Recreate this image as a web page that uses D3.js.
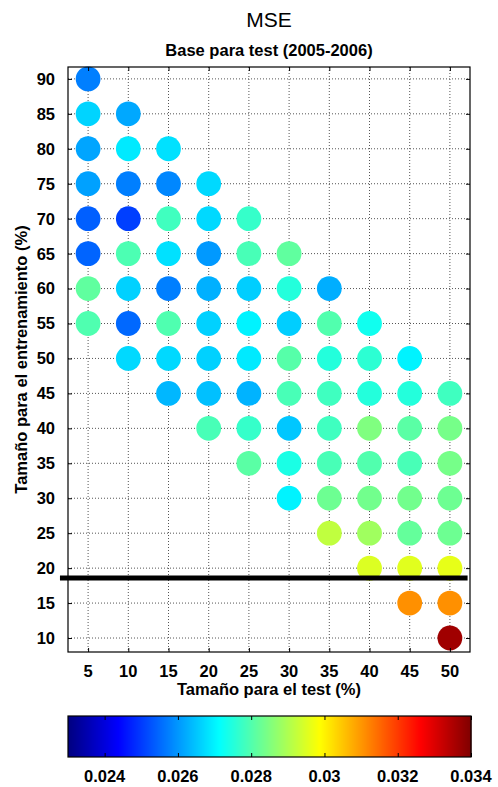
<!DOCTYPE html>
<html>
<head>
<meta charset="utf-8">
<script src="https://cdn.jsdelivr.net/npm/d3@7"></script>
<style>
  body { margin: 0; background: #fff; }
  text { font-family: "Liberation Sans", Arial, sans-serif; fill: #000; }
</style>
</head>
<body>
<div id="chart"></div>
<script>
// ------------------------------------------------------------------
// Data
var testSizes  = [5, 10, 15, 20, 25, 30, 35, 40, 45, 50];
var trainSizes = [90, 85, 80, 75, 70, 65, 60, 55, 50, 45, 40, 35, 30, 25, 20, 15, 10];
// one row per training size, one column per test size (null = no point)
var mseRows = [
  [0.02575],
  [0.02666, 0.02619],
  [0.02615, 0.02690, 0.02680],
  [0.02611, 0.02575, 0.02583, 0.02671],
  [0.02540, 0.02505, 0.02781, 0.02671, 0.02770],
  [0.02545, 0.02795, 0.02680, 0.02603, 0.02790, 0.02816],
  [0.02816, 0.02663, 0.02575, 0.02627, 0.02660, 0.02750, 0.02625],
  [0.02798, 0.02550, 0.02798, 0.02663, 0.02700, 0.02660, 0.02800, 0.02730],
  [null, 0.02671, 0.02671, 0.02663, 0.02690, 0.02805, 0.02750, 0.02760, 0.02700],
  [null, null, 0.02635, 0.02645, 0.02630, 0.02790, 0.02780, 0.02750, 0.02750, 0.02780],
  [null, null, null, 0.02790, 0.02770, 0.02652, 0.02780, 0.02850, 0.02810, 0.02840],
  [null, null, null, null, 0.02810, 0.02740, 0.02790, 0.02800, 0.02790, 0.02840],
  [null, null, null, null, null, 0.02700, 0.02830, 0.02835, 0.02835, 0.02830],
  [null, null, null, null, null, null, 0.02920, 0.02885, 0.02820, 0.02830],
  [null, null, null, null, null, null, null, 0.02950, 0.02955, 0.02962],
  [null, null, null, null, null, null, null, null, 0.03107, 0.03107],
  [null, null, null, null, null, null, null, null, null, 0.03365]
];
var colorRange  = [0.023, 0.034];
var colorTicks  = [0.024, 0.026, 0.028, 0.030, 0.032, 0.034];
var splitLineY  = 18.6;          // thick separator between 20 and 15
var splitLineX  = [1.5, 52.2];

// ------------------------------------------------------------------
// Layout
var width = 498, height = 787;
var plot = { left: 68, right: 470, top: 67, bottom: 652 };
var bar  = { left: 68, right: 471, top: 716, bottom: 757 };
var radius = 12.4;

var svg = d3.select("#chart").append("svg")
  .attr("width", width)
  .attr("height", height);

var x = d3.scaleLinear().domain([2.5, 52.5]).range([plot.left, plot.right]);
var y = d3.scaleLinear().domain([8, 91.7]).range([plot.bottom, plot.top]);

// jet colormap like matlab
function jet(t) {
  t = Math.max(0, Math.min(1, t));
  var r = Math.max(0, Math.min(1, 1.5 - Math.abs(4 * t - 3)));
  var g = Math.max(0, Math.min(1, 1.5 - Math.abs(4 * t - 2)));
  var b = Math.max(0, Math.min(1, 1.5 - Math.abs(4 * t - 1)));
  return d3.rgb(r * 255, g * 255, b * 255).toString();
}
var tScale = d3.scaleLinear().domain(colorRange).range([0, 1]).clamp(true);
var color = function(v) { return jet(tScale(v)); };

// flatten rows into points
var points = [];
for (var i = 0; i < trainSizes.length; i++) {
  var row = mseRows[i];
  for (var j = 0; j < row.length; j++) {
    if (row[j] != null) points.push({ test: testSizes[j], train: trainSizes[i], mse: row[j] });
  }
}

// ------------------------------------------------------------------
// Grid (dotted)
var grid = svg.append("g");
grid.selectAll(".gx").data(testSizes).enter().append("line")
  .attr("x1", function(d) { return x(d); }).attr("x2", function(d) { return x(d); })
  .attr("y1", plot.top).attr("y2", plot.bottom)
  .attr("stroke", "#555").attr("stroke-width", 1).attr("stroke-dasharray", "1,2");
grid.selectAll(".gy").data(trainSizes).enter().append("line")
  .attr("y1", function(d) { return y(d); }).attr("y2", function(d) { return y(d); })
  .attr("x1", plot.left).attr("x2", plot.right)
  .attr("stroke", "#555").attr("stroke-width", 1).attr("stroke-dasharray", "1,2");

// ------------------------------------------------------------------
// Points
svg.append("g").selectAll("circle").data(points).enter().append("circle")
  .attr("cx", function(d) { return x(d.test); })
  .attr("cy", function(d) { return y(d.train); })
  .attr("r", radius)
  .attr("fill", function(d) { return color(d.mse); });

// ------------------------------------------------------------------
// Axes box with inside ticks
var tickFont = "16.5px";
svg.append("g").attr("transform", "translate(0," + plot.bottom + ")")
  .call(d3.axisTop(x).tickValues(testSizes).tickSize(4).tickFormat(""))
  .call(function(g) { g.select(".domain").remove(); });
svg.append("g").attr("transform", "translate(0," + plot.top + ")")
  .call(d3.axisBottom(x).tickValues(testSizes).tickSize(4).tickFormat(""))
  .call(function(g) { g.select(".domain").remove(); });
svg.append("g").attr("transform", "translate(" + plot.left + ",0)")
  .call(d3.axisRight(y).tickValues(trainSizes).tickSize(4).tickFormat(""))
  .call(function(g) { g.select(".domain").remove(); });
svg.append("g").attr("transform", "translate(" + plot.right + ",0)")
  .call(d3.axisLeft(y).tickValues(trainSizes).tickSize(4).tickFormat(""))
  .call(function(g) { g.select(".domain").remove(); });

svg.append("rect")
  .attr("x", plot.left).attr("y", plot.top)
  .attr("width", plot.right - plot.left).attr("height", plot.bottom - plot.top)
  .attr("fill", "none").attr("stroke", "#000").attr("stroke-width", 1.2);

// tick labels
svg.append("g").selectAll("text").data(testSizes).enter().append("text")
  .attr("x", function(d) { return x(d); })
  .attr("y", 677)
  .attr("text-anchor", "middle")
  .style("font-size", tickFont).style("font-weight", "bold")
  .text(function(d) { return d; });
svg.append("g").selectAll("text").data(trainSizes).enter().append("text")
  .attr("x", 55)
  .attr("y", function(d) { return y(d); })
  .attr("dy", "0.36em")
  .attr("text-anchor", "end")
  .style("font-size", tickFont).style("font-weight", "bold")
  .text(function(d) { return d; });

// thick separator line
svg.append("line")
  .attr("x1", x(splitLineX[0])).attr("x2", x(splitLineX[1]))
  .attr("y1", y(splitLineY)).attr("y2", y(splitLineY))
  .attr("stroke", "#000").attr("stroke-width", 5);

// ------------------------------------------------------------------
// Titles and labels
svg.append("text").attr("x", (plot.left + plot.right) / 2).attr("y", 27)
  .attr("text-anchor", "middle").style("font-size", "21px")
  .text("MSE");
svg.append("text").attr("x", (plot.left + plot.right) / 2).attr("y", 56)
  .attr("text-anchor", "middle").style("font-size", "16.5px").style("font-weight", "bold")
  .text("Base para test (2005-2006)");
svg.append("text").attr("x", (plot.left + plot.right) / 2).attr("y", 695)
  .attr("text-anchor", "middle").style("font-size", "16.5px").style("font-weight", "bold")
  .text("Tamaño para el test (%)");
svg.append("text")
  .attr("transform", "translate(27," + (plot.top + plot.bottom) / 2 + ") rotate(-90)")
  .attr("text-anchor", "middle").style("font-size", "16.5px").style("font-weight", "bold")
  .text("Tamaño para el entrenamiento (%)");

// ------------------------------------------------------------------
// Colorbar
var cx = d3.scaleLinear().domain(colorRange).range([bar.left, bar.right]);
var steps = d3.range(bar.left, bar.right);
svg.append("g").selectAll("rect").data(steps).enter().append("rect")
  .attr("x", function(d) { return d; })
  .attr("y", bar.top)
  .attr("width", 1.5)
  .attr("height", bar.bottom - bar.top)
  .attr("fill", function(d) { return color(cx.invert(d + 0.5)); });

svg.append("g").attr("transform", "translate(0," + bar.bottom + ")")
  .call(d3.axisTop(cx).tickValues(colorTicks).tickSize(4).tickFormat(""))
  .call(function(g) { g.select(".domain").remove(); });
svg.append("g").attr("transform", "translate(0," + bar.top + ")")
  .call(d3.axisBottom(cx).tickValues(colorTicks).tickSize(4).tickFormat(""))
  .call(function(g) { g.select(".domain").remove(); });
svg.append("rect")
  .attr("x", bar.left).attr("y", bar.top)
  .attr("width", bar.right - bar.left).attr("height", bar.bottom - bar.top)
  .attr("fill", "none").attr("stroke", "#000").attr("stroke-width", 1.2);
svg.append("g").selectAll("text").data(colorTicks).enter().append("text")
  .attr("x", function(d) { return cx(d); })
  .attr("y", 782)
  .attr("text-anchor", "middle")
  .style("font-size", tickFont).style("font-weight", "bold")
  .text(function(d) { return d3.format("")(+d.toFixed(3)); });
</script>
</body>
</html>
